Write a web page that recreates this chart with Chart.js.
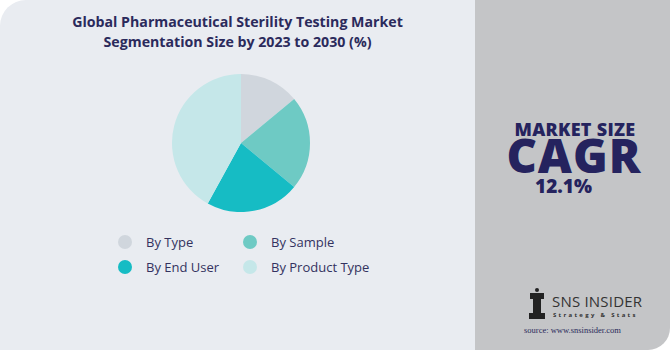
<!DOCTYPE html>
<html><head><meta charset="utf-8">
<script src="https://cdn.jsdelivr.net/npm/chart.js@4"></script>
<style>
html,body{margin:0;padding:0;background:#fff;width:670px;height:350px;overflow:hidden;font-family:"Open Sans",sans-serif;}
#left{position:absolute;left:0;top:0;width:475px;height:350px;background:#e9ecf1;border-top-left-radius:26px;}
#right{position:absolute;left:475px;top:0;width:195px;height:350px;background:#c4c5c7;border-bottom-right-radius:22px;}
#title{position:absolute;left:0;top:12px;width:475px;text-align:center;color:#2b2a5c;font-weight:700;font-size:14.2px;line-height:20px;}
#pie{position:absolute;left:172px;top:74px;}
.leg{position:absolute;font-size:13px;line-height:16px;color:#33325f;display:flex;align-items:center;}
.dot{width:14px;height:14px;border-radius:50%;margin-right:14px;}
.r{position:absolute;color:#25235e;font-weight:800;text-align:center;}
</style></head><body>
<div id="left"></div><div id="right"></div>
<div id="title">Global Pharmaceutical Sterility Testing Market<br>Segmentation Size by 2023 to 2030 (%)</div>
<canvas id="pie" width="138" height="138"></canvas>
<div id="legend"></div>
<div class="r" style="left:475px;width:200px;top:119px;height:20px;font-size:18px;line-height:20px;letter-spacing:0.3px;">MARKET SIZE</div>
<div class="r" style="left:475px;width:198px;top:135px;height:40px;font-size:47px;line-height:40px;letter-spacing:1px;">CAGR</div>
<div class="r" style="left:466px;width:195px;top:176px;height:20px;font-size:19px;line-height:20px;">12.1%</div>
<div style="position:absolute;left:527px;top:287px;width:20px;height:36px;">
<svg width="20" height="36" viewBox="0 0 20 36"><circle cx="10" cy="3" r="2" fill="#222"/><rect x="3" y="6" width="14" height="6" fill="#222"/><rect x="6" y="12" width="8" height="14" fill="#222"/><rect x="2" y="26" width="16" height="6" fill="#222"/></svg></div>
<div style="position:absolute;left:552px;top:292px;font-size:15px;line-height:18px;color:#333;font-family:'Open Sans';letter-spacing:0.2px;">SNS INSIDER</div>
<div style="position:absolute;left:553px;top:311px;font-size:6px;line-height:8px;color:#333;letter-spacing:2.3px;font-weight:700;">Strategy &amp; Stats</div>
<div style="position:absolute;left:475px;width:195px;top:325px;text-align:center;font-size:8.5px;line-height:10px;color:#2a2a5a;font-family:'Liberation Serif',serif;">source: www.snsinsider.com</div>
<script>
const categories=["By Type","By Sample","By End User","By Product Type"];
const values=[14,22,22,42];
const colors=["#d0d6dd","#6ecac4","#16bcc4","#c5e7e9"];
const legendPos=[[118,234],[243,234],[118,259],[243,259]];
new Chart(document.getElementById('pie'),{
 type:'pie',
 data:{labels:categories,datasets:[{data:values,backgroundColor:colors,borderWidth:0}]},
 options:{responsive:false,animation:false,plugins:{legend:{display:false},tooltip:{enabled:false}},layout:{padding:0}}
});
const lg=document.getElementById('legend');
categories.forEach((c,i)=>{
 const d=document.createElement('div');d.className='leg';
 d.style.left=legendPos[i][0]+'px';d.style.top=legendPos[i][1]+'px';
 d.innerHTML='<span class="dot" style="background:'+colors[i]+'"></span>'+c;
 lg.appendChild(d);
});
</script>
</body></html>
